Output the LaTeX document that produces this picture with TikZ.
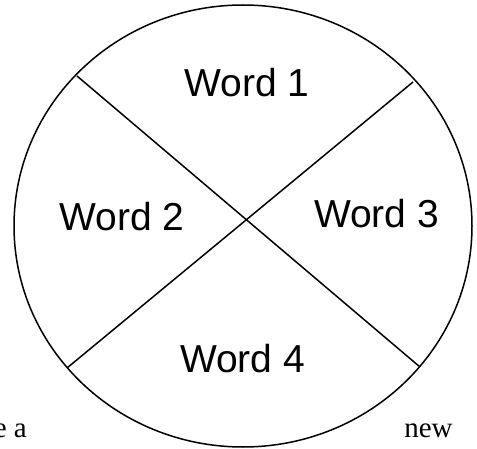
\documentclass[tikz,border=0pt]{standalone}
\usepackage{fontspec}
\setmainfont{Liberation Serif}
\newfontfamily\wordfont{Liberation Sans}
\begin{document}
\begin{tikzpicture}[x=1pt,y=1pt,
  wordlabel/.style={font=\wordfont\fontsize{39}{45}\selectfont, inner sep=0pt, anchor=base},
  bodytext/.style={font=\fontsize{29}{34}\selectfont, inner sep=0pt},
  edge/.style={line width=1.5pt, black}]
\useasboundingbox (0,0) rectangle (477,448);
\draw[edge] (243,222) ellipse [x radius=229, y radius=221];
\coordinate (a1) at (77,372);
\coordinate (a2) at (420,81);
\coordinate (b1) at (413,366);
\coordinate (b2) at (67,80);
\draw[edge] (a1) -- (a2);
\draw[edge] (b1) -- (b2);
\node[wordlabel] (w1) at (247,351) {Word 1};
\node[wordlabel] (w2) at (122,218) {Word 2};
\node[wordlabel] (w3) at (376.5,221) {Word 3};
\node[wordlabel] (w4) at (242.5,76) {Word 4};
\node[bodytext, anchor=base east] (ea) at (27,11) {e a};
\node[bodytext, anchor=base] (nw) at (428.5,11) {new};
\end{tikzpicture}
\end{document}
